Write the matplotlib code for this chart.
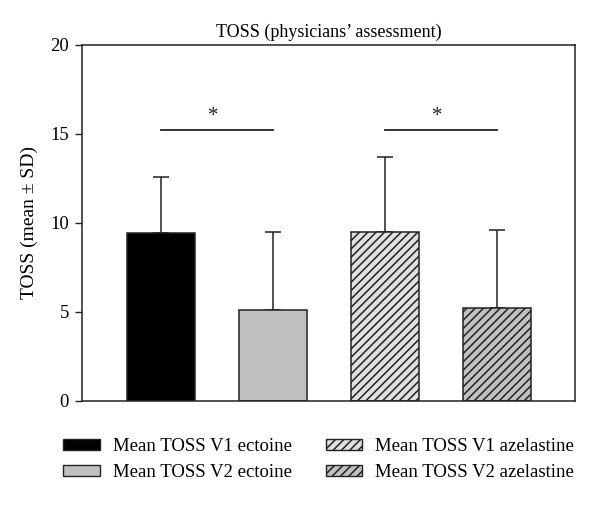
import matplotlib
matplotlib.use("Agg")
import matplotlib.pyplot as plt
from matplotlib.patches import Patch

plt.rcParams['font.family'] = ['Liberation Serif', 'DejaVu Serif']
plt.rcParams['hatch.linewidth'] = 1.1

labels = ["Mean TOSS V1 ectoine", "Mean TOSS V2 ectoine",
          "Mean TOSS V1 azelastine", "Mean TOSS V2 azelastine"]
means = [9.44, 5.08, 9.48, 5.21]
sds = [3.11, 4.38, 4.21, 4.38]
fills = ["#000000", "#c0c0c0", "#e0e0e0", "#c0c0c0"]
hatches = [None, None, "////", "////"]
sig_pairs = [(0, 1), (2, 3)]
sig_level = 15.2
yticks = [0, 5, 10, 15, 20]

fig = plt.figure(figsize=(6.0, 5.11), dpi=100)
ax = fig.add_axes([0.136, 0.216, 0.823, 0.696])

x = list(range(len(means)))
ax.errorbar(x, means, yerr=[[0]*len(sds), sds], fmt='none', ecolor='#222222',
            elinewidth=1.1, capsize=6, capthick=1.1, zorder=1)
bars = ax.bar(x, means, width=0.607, color=fills, edgecolor='#222222',
              linewidth=1.1, zorder=2)
for b, h in zip(bars, hatches):
    if h:
        b.set_hatch(h)

for a, b in sig_pairs:
    ax.plot([a, b], [sig_level, sig_level], color='#222222', lw=1.3)
    ax.text((a + b) / 2 - 0.03, sig_level + 0.25, "*", ha='center', va='bottom',
            fontsize=15, color='#222222')

ax.set_xlim(-0.708, 3.70)
ax.set_ylim(0, 20)
ax.set_yticks(yticks)
ax.set_xticks([])
ax.tick_params(axis='y', direction='out', length=5, width=1, labelsize=13.5,
               color='#222222', pad=4)
for s in ax.spines.values():
    s.set_color('#222222')
    s.set_linewidth(1.1)
ax.set_ylabel("TOSS (mean ± SD)", fontsize=14)
ax.yaxis.set_label_coords(-0.088, 0.5)
ax.set_title("TOSS (physicians’ assessment)", fontsize=13, pad=6)

handles = [Patch(facecolor=f, edgecolor='#222222', hatch=h, linewidth=1.0)
           for f, h in zip(fills, hatches)]
common = dict(frameon=False, fontsize=13.5, handlelength=1.95, handleheight=0.55,
              handletextpad=0.7, labelspacing=0.45, borderpad=0, borderaxespad=0,
              loc='upper left')
fig.legend([handles[0], handles[1]], [labels[0], labels[1]],
           bbox_to_anchor=(0.105, 0.142), **common)
fig.legend([handles[2], handles[3]], [labels[2], labels[3]],
           bbox_to_anchor=(0.543, 0.142), **common)

fig.savefig("out.png", dpi=100)
